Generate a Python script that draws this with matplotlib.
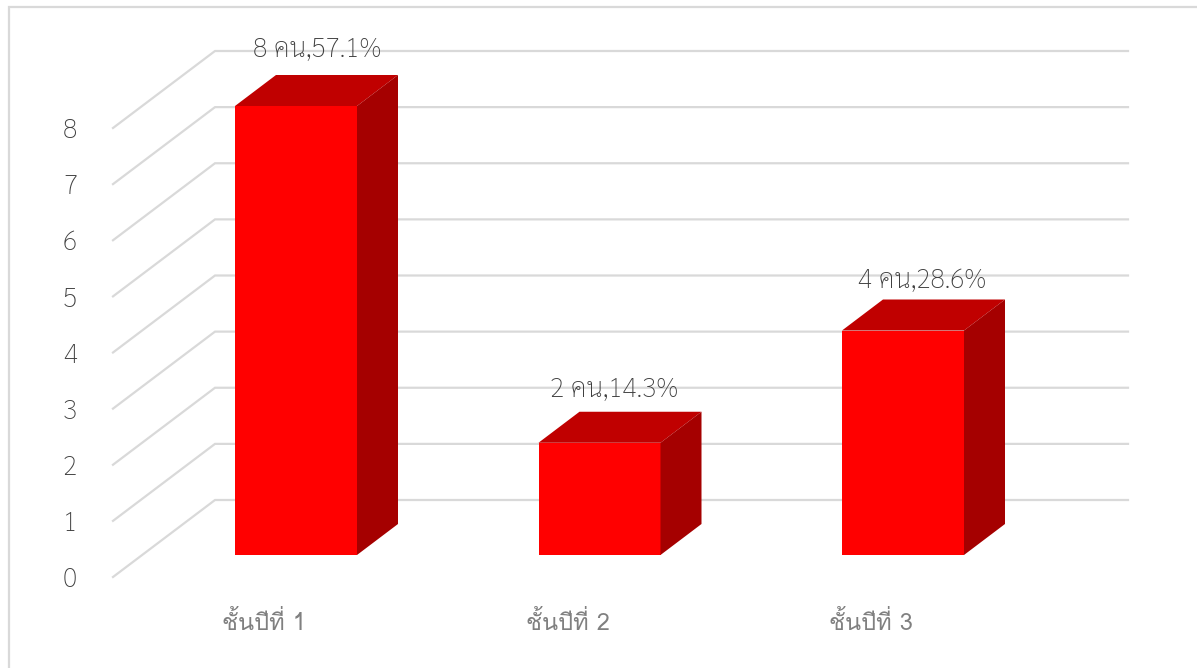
import matplotlib
matplotlib.use("Agg")
import matplotlib.pyplot as plt
from matplotlib.patches import Polygon, Rectangle

categories = ["ชั้นปีที่ 1", "ชั้นปีที่ 2", "ชั้นปีที่ 3"]
values = [8, 2, 4]
data_labels = ["8 คน,57.1%", "2 คน,14.3%", "4 คน,28.6%"]
y_ticks = [0, 1, 2, 3, 4, 5, 6, 7, 8]

W, H = 1197, 668
UNIT_X = 303.5  # px per category
UNIT_Y = 56.125  # px per value
X0, Y0 = 296, 555  # px of first category, value 0, on the bar front

plt.rcParams["font.family"] = ["Sarabun", "DejaVu Sans"]
TEXT = "#404040"
GRID = "#D9D9D9"

fig = plt.figure(figsize=(W / 100, H / 100), dpi=100)
ax = fig.add_axes([0, 0, 1, 1])
ax.set_xlim(-X0 / UNIT_X, (W - X0) / UNIT_X)
ax.set_ylim((Y0 - H) / UNIT_Y, Y0 / UNIT_Y)
ax.axis("off")


def dx(px):
    return px / UNIT_X


def dy(px):
    return px / UNIT_Y


# chart frame: only top and left edges are inside the crop
ax.plot([dx(9 - X0), dx(9 - X0), dx(W - X0)], [dy(Y0 - H), dy(Y0 - 7), dy(Y0 - 7)],
        color=GRID, linewidth=1.6, solid_joinstyle="miter", zorder=1)

# back wall and side wall gridlines
for v in y_ticks:
    back_y = v + dy(Y0 - 500)
    front_y = v + dy(Y0 - 577)
    ax.plot([dx(113 - X0), dx(215 - X0), dx(1128 - X0)], [front_y, back_y, back_y],
            color=GRID, linewidth=1.6, solid_joinstyle="miter", zorder=1)
    ax.text(dx(70 - X0), front_y - dy(3), str(v), ha="center", va="center",
            fontsize=19, fontweight="light", color=TEXT)

half = dx(61)
depth_x = dx(41)
depth_y = dy(31)
# label offsets from the bar's top front centre, px
label_shift = [(21, 56), (15, 53), (19, 50)]
for i, (name, val, lab) in enumerate(zip(categories, values, data_labels)):
    ax.add_patch(Rectangle((i - half, 0), 2 * half, val, facecolor="#FF0000",
                           edgecolor="none", zorder=3))
    ax.add_patch(Polygon([(i - half, val), (i - half + depth_x, val + depth_y),
                          (i + half + depth_x, val + depth_y), (i + half, val)],
                         facecolor="#C00000", edgecolor="none", zorder=3))
    ax.add_patch(Polygon([(i + half, 0), (i + half + depth_x, depth_y),
                          (i + half + depth_x, val + depth_y), (i + half, val)],
                         facecolor="#A50000", edgecolor="none", zorder=3))
    sx, sy = label_shift[i]
    ax.text(i + dx(sx), val + dy(sy), lab, ha="center", va="center",
            fontsize=19, fontweight="light", color=TEXT, zorder=4)
    # Loma keeps the stacked tone marks readable without text shaping
    ax.text(i - dx(32), dy(Y0 - 623), name, ha="center", va="center",
            family=["Loma", "DejaVu Sans"], fontsize=17, color="#808080")

fig.savefig("out.png", dpi=100)
plt.close(fig)
